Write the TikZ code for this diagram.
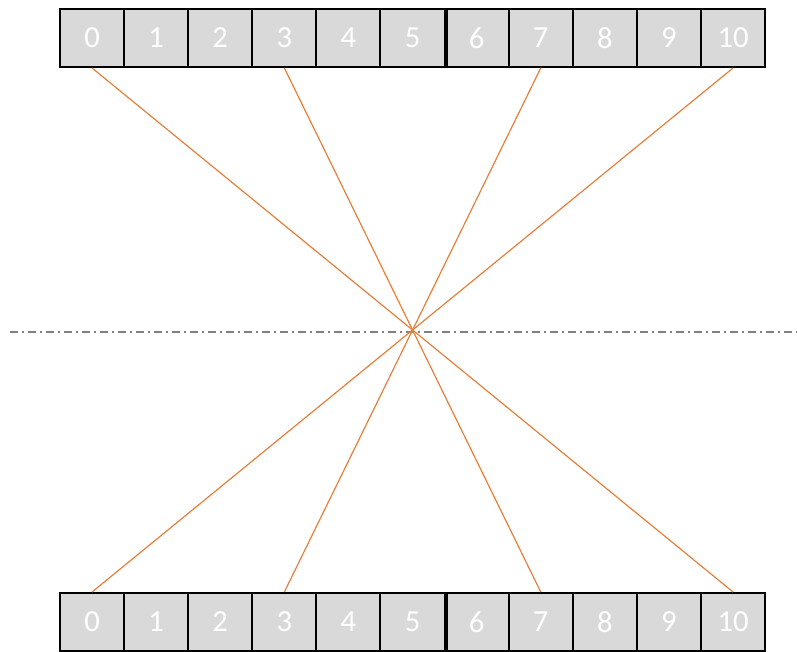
\documentclass[tikz,border=0pt]{standalone}
\usepackage{fontspec}
\setmainfont{Carlito}
\definecolor{cellgray}{RGB}{217,217,217}
\definecolor{linkorange}{RGB}{228,128,60}
\definecolor{axisgray}{RGB}{128,128,128}
\begin{document}
\begin{tikzpicture}[
    x=0.75pt, y=-0.75pt,
    cell/.style={draw, line width=1.5pt, fill=cellgray, text=white,
        minimum width=48.1pt, minimum height=43.5pt, inner sep=0pt,
        font=\fontsize{23}{25}\selectfont},
    link/.style={draw=linkorange, line width=0.9pt},
    axis/.style={draw=axisgray, line width=0.8pt, dash pattern=on 6pt off 3pt on 1.5pt off 3pt}
]
\useasboundingbox (0,0) rectangle (797,652);
% dash-dot middle line
\coordinate (axisL) at (10,332);
\coordinate (axisR) at (797,332);
\draw[axis] (axisL) -- (axisR);
% two rows of cells
\foreach \i in {0,...,10} {
    \node[cell] (t\i) at ({60+64.1*(\i+0.5)},38) {\i};
    \node[cell] (b\i) at ({60+64.1*(\i+0.5)},622) {\i};
}
\draw[line width=3pt] (t5.north east) -- (t5.south east);
\draw[line width=3pt] (b5.north east) -- (b5.south east);
% crossing links
\foreach \i/\j in {0/10, 3/7, 7/3, 10/0}
    \draw[link] (t\i.south) -- (b\j.north);
\end{tikzpicture}
\end{document}
